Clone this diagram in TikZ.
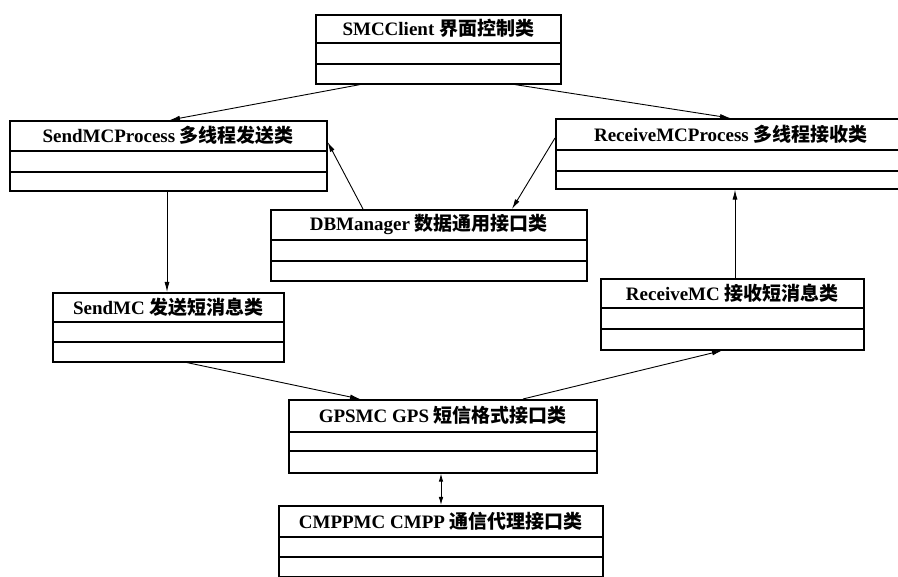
\documentclass[tikz,border=0pt]{standalone}
\usepackage{fontspec}
\setmainfont{Liberation Serif}
\newfontfamily\cjk{Noto Sans CJK SC}
\usetikzlibrary{arrows.meta,calc}
\tikzset{
  clsbox/.style={draw=black, line width=1.6pt, inner sep=0pt, fill=white},
  clsline/.style={line width=1.2pt},
  ttl/.style={inner sep=0pt, font=\fontsize{19}{21}\selectfont},
  conn/.style={line width=0.9pt, -{Latex[length=10pt,width=5pt]}},
  conn2/.style={line width=0.9pt, {Latex[length=8pt,width=4.5pt]}-{Latex[length=8pt,width=4.5pt]}},
}
\newcommand\umlclass[8]{%
  \node[clsbox, minimum width=#4pt, minimum height=#5pt, anchor=north west] (#1) at (#2,#3) {};
  \draw[clsline] ([yshift=-#6pt]#1.north west) -- ([yshift=-#6pt]#1.north east);
  \draw[clsline] ([yshift=-#7pt]#1.north west) -- ([yshift=-#7pt]#1.north east);
  \node[ttl] (#1-t) at ([yshift={-#6/2}]#1.north) {#8};
}
\begin{document}
\begin{tikzpicture}[x=1pt,y=-1pt]
\useasboundingbox[fill=white] (0,0) rectangle (898,577);
\clip (0,0) rectangle (898,577);
\umlclass{smc}{315}{14}{245}{69}{29}{50}{\textbf{SMCClient} {\cjk\bfseries 界面控制类}}
\umlclass{smp}{9}{120}{317}{70}{31}{52}{\textbf{SendMCProcess} {\cjk\bfseries 多线程发送类}}
\umlclass{rmp}{555}{118}{350}{70}{32}{53}{\textbf{ReceiveMCProcess} {\cjk\bfseries 多线程接收类}}
\umlclass{dbm}{270}{209}{316}{71}{31}{52}{\textbf{DBManager} {\cjk\bfseries 数据通用接口类}}
\umlclass{sm}{52}{292}{231}{69}{30}{50}{\textbf{SendMC} {\cjk\bfseries 发送短消息类}}
\umlclass{rm}{600}{278}{263}{71}{30}{51}{\textbf{ReceiveMC} {\cjk\bfseries 接收短消息类}}
\umlclass{gps}{288}{399}{308}{73}{33}{52}{\textbf{GPSMC GPS} {\cjk\bfseries 短信格式接口类}}
\umlclass{cmpp}{278}{505}{324}{71}{32}{52}{\textbf{CMPPMC CMPP} {\cjk\bfseries 通信代理接口类}}
% connectors
\draw[conn] ([xshift=45]smc.south west) -- ([xshift=161]smp.north west);
\draw[conn] ([xshift=200]smc.south west) -- ([xshift=175]rmp.north west);
\draw[conn] ([xshift=93]dbm.north west) -- ([yshift=-22]smp.north east);
\draw[conn] ([yshift=-20]rmp.north west) -- ([xshift=242]dbm.north west);
\draw[conn] ([xshift=158]smp.south west) -- ([xshift=115]sm.north west);
\draw[conn] ([xshift=135]rm.north west) -- ([xshift=180]rmp.south west);
\draw[conn] ([xshift=135]sm.south west) -- ([xshift=72]gps.north west);
\draw[conn] ([xshift=235]gps.north west) -- ([xshift=122]rm.south west);
\draw[conn2] ([xshift=153]gps.south west) -- ([xshift=163]cmpp.north west);
\end{tikzpicture}
\end{document}
